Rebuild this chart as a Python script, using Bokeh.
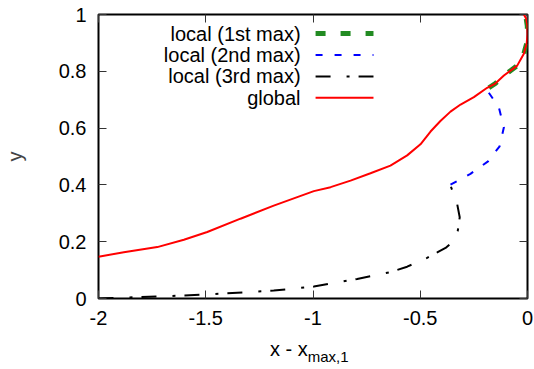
from bokeh.plotting import figure
from bokeh.models import Range1d, FixedTicker, LinearAxis, Label, Div
from bokeh.layouts import column
from bokeh.embed import file_html
from bokeh.resources import INLINE

FONT = "Liberation Sans"

x_ticks = [-2, -1.5, -1, -0.5, 0]
x_tick_labels = ["-2", "-1.5", "-1", "-0.5", "0"]
y_ticks = [0, 0.2, 0.4, 0.6, 0.8, 1]
y_tick_labels = ["0", "0.2", "0.4", "0.6", "0.8", "1"]

series_names = ["local (1st max)", "local (2nd max)", "local (3rd max)", "global"]

# local (1st max)
local1_x = [-0.180, -0.150, -0.110, -0.048, -0.017, -0.004, 0.0, -0.001, -0.006, -0.017]
local1_y = [0.742, 0.757, 0.785, 0.820, 0.862, 0.897, 0.930, 0.960, 0.985, 1.0]

# local (2nd max)
local2_x = [-0.359, -0.266, -0.184, -0.130, -0.110, -0.134, -0.191]
local2_y = [0.401, 0.439, 0.483, 0.536, 0.603, 0.674, 0.736]

# local (3rd max)
local3_x = [-2.0, -1.975, -1.726, -1.493, -1.183, -0.996, -0.794, -0.639, -0.561,
            -0.468, -0.421, -0.382, -0.351, -0.325, -0.316, -0.328, -0.359]
local3_y = [0.0, 0.001, 0.007, 0.014, 0.028, 0.042, 0.069, 0.093, 0.112,
            0.143, 0.162, 0.178, 0.198, 0.239, 0.286, 0.333, 0.398]

# global
global_x = [-2.0, -1.882, -1.726, -1.602, -1.493, -1.338, -1.183, -0.996, -0.918,
            -0.825, -0.732, -0.639, -0.561, -0.499, -0.452, -0.406, -0.359, -0.312,
            -0.250, -0.188, -0.150, -0.110, -0.048, -0.017, -0.004, 0.0, -0.001,
            -0.006, -0.017]
global_y = [0.147, 0.163, 0.181, 0.207, 0.234, 0.281, 0.327, 0.378, 0.392,
            0.415, 0.441, 0.468, 0.504, 0.543, 0.588, 0.625, 0.658, 0.683,
            0.709, 0.742, 0.757, 0.785, 0.820, 0.862, 0.897, 0.930, 0.960,
            0.985, 1.0]

styles = [
    dict(line_color="#228B22", line_width=5, line_dash="10 15"),
    dict(line_color="#0000FF", line_width=2, line_dash="7 12"),
    dict(line_color="#000000", line_width=2, line_dash="15 16 3 9"),
    dict(line_color="#FF0000", line_width=2),
]

p = figure(width=534, height=338, x_range=Range1d(-2, 0), y_range=Range1d(0, 1),
           output_backend="svg", toolbar_location=None,
           min_border_left=98, min_border_right=7, min_border_top=14, min_border_bottom=40)
p.xgrid.visible = False
p.ygrid.visible = False
p.outline_line_color = "black"
p.outline_line_width = 2
p.background_fill_color = "white"
p.border_fill_color = "white"

def style_axis(ax, ticks, labels, show_labels):
    ax.ticker = FixedTicker(ticks=ticks)
    ax.minor_tick_line_color = None
    ax.major_tick_in = 8
    ax.major_tick_out = 0
    ax.major_tick_line_color = "#333333"
    ax.major_tick_line_width = 1
    ax.axis_line_color = None
    ax.major_label_text_font = FONT
    ax.major_label_text_color = "black"
    if show_labels:
        ax.major_label_overrides = {t: l for t, l in zip(ticks, labels)}
        ax.major_label_text_font_size = "20px"
        ax.major_label_standoff = 12
    else:
        ax.major_label_overrides = {t: "" for t in ticks}
        ax.major_label_text_font_size = "1px"
        ax.major_label_standoff = 0

style_axis(p.xaxis[0], x_ticks, x_tick_labels, True)
style_axis(p.yaxis[0], y_ticks, y_tick_labels, True)
p.yaxis[0].axis_label = "y"
p.yaxis[0].axis_label_text_font = FONT
p.yaxis[0].axis_label_text_font_size = "20px"
p.yaxis[0].axis_label_text_font_style = "normal"
p.yaxis[0].axis_label_standoff = 30

top_ax = LinearAxis()
style_axis(top_ax, x_ticks, x_tick_labels, False)
p.add_layout(top_ax, "above")
right_ax = LinearAxis()
style_axis(right_ax, y_ticks, y_tick_labels, False)
p.add_layout(right_ax, "right")

data = [(local1_x, local1_y), (local2_x, local2_y), (local3_x, local3_y), (global_x, global_y)]
for (xs, ys), st in zip(data, styles):
    p.line(xs, ys, **st)

# legend (text right-aligned, sample to the right)
LEG_TEXT_X = -1.058
LEG_LINE_X0 = -0.988
LEG_LINE_X1 = -0.718
LEG_Y0 = 0.933
LEG_DY = 0.0755
for i, (name, st) in enumerate(zip(series_names, styles)):
    yy = LEG_Y0 - i * LEG_DY
    p.add_layout(Label(x=LEG_TEXT_X, y=yy, text=name, text_align="right",
                       text_baseline="middle", text_font=FONT, text_font_size="20px",
                       text_color="black"))
    p.line([LEG_LINE_X0, LEG_LINE_X1], [yy, yy], **st)

# x axis label with subscript
xlabel = Div(
    text=('<span style="font-family:\'Liberation Sans\';font-size:20px;color:black;'
          'white-space:nowrap;">x - x<span style="font-size:15px;position:relative;'
          'top:6px;">max,1</span></span>'),
    width=534, height=31,
    styles={"padding-left": "270px", "margin": "0px", "line-height": "23px"},
)

layout = column(p, xlabel, spacing=0)
open("out.html", "w").write(file_html(layout, INLINE))
